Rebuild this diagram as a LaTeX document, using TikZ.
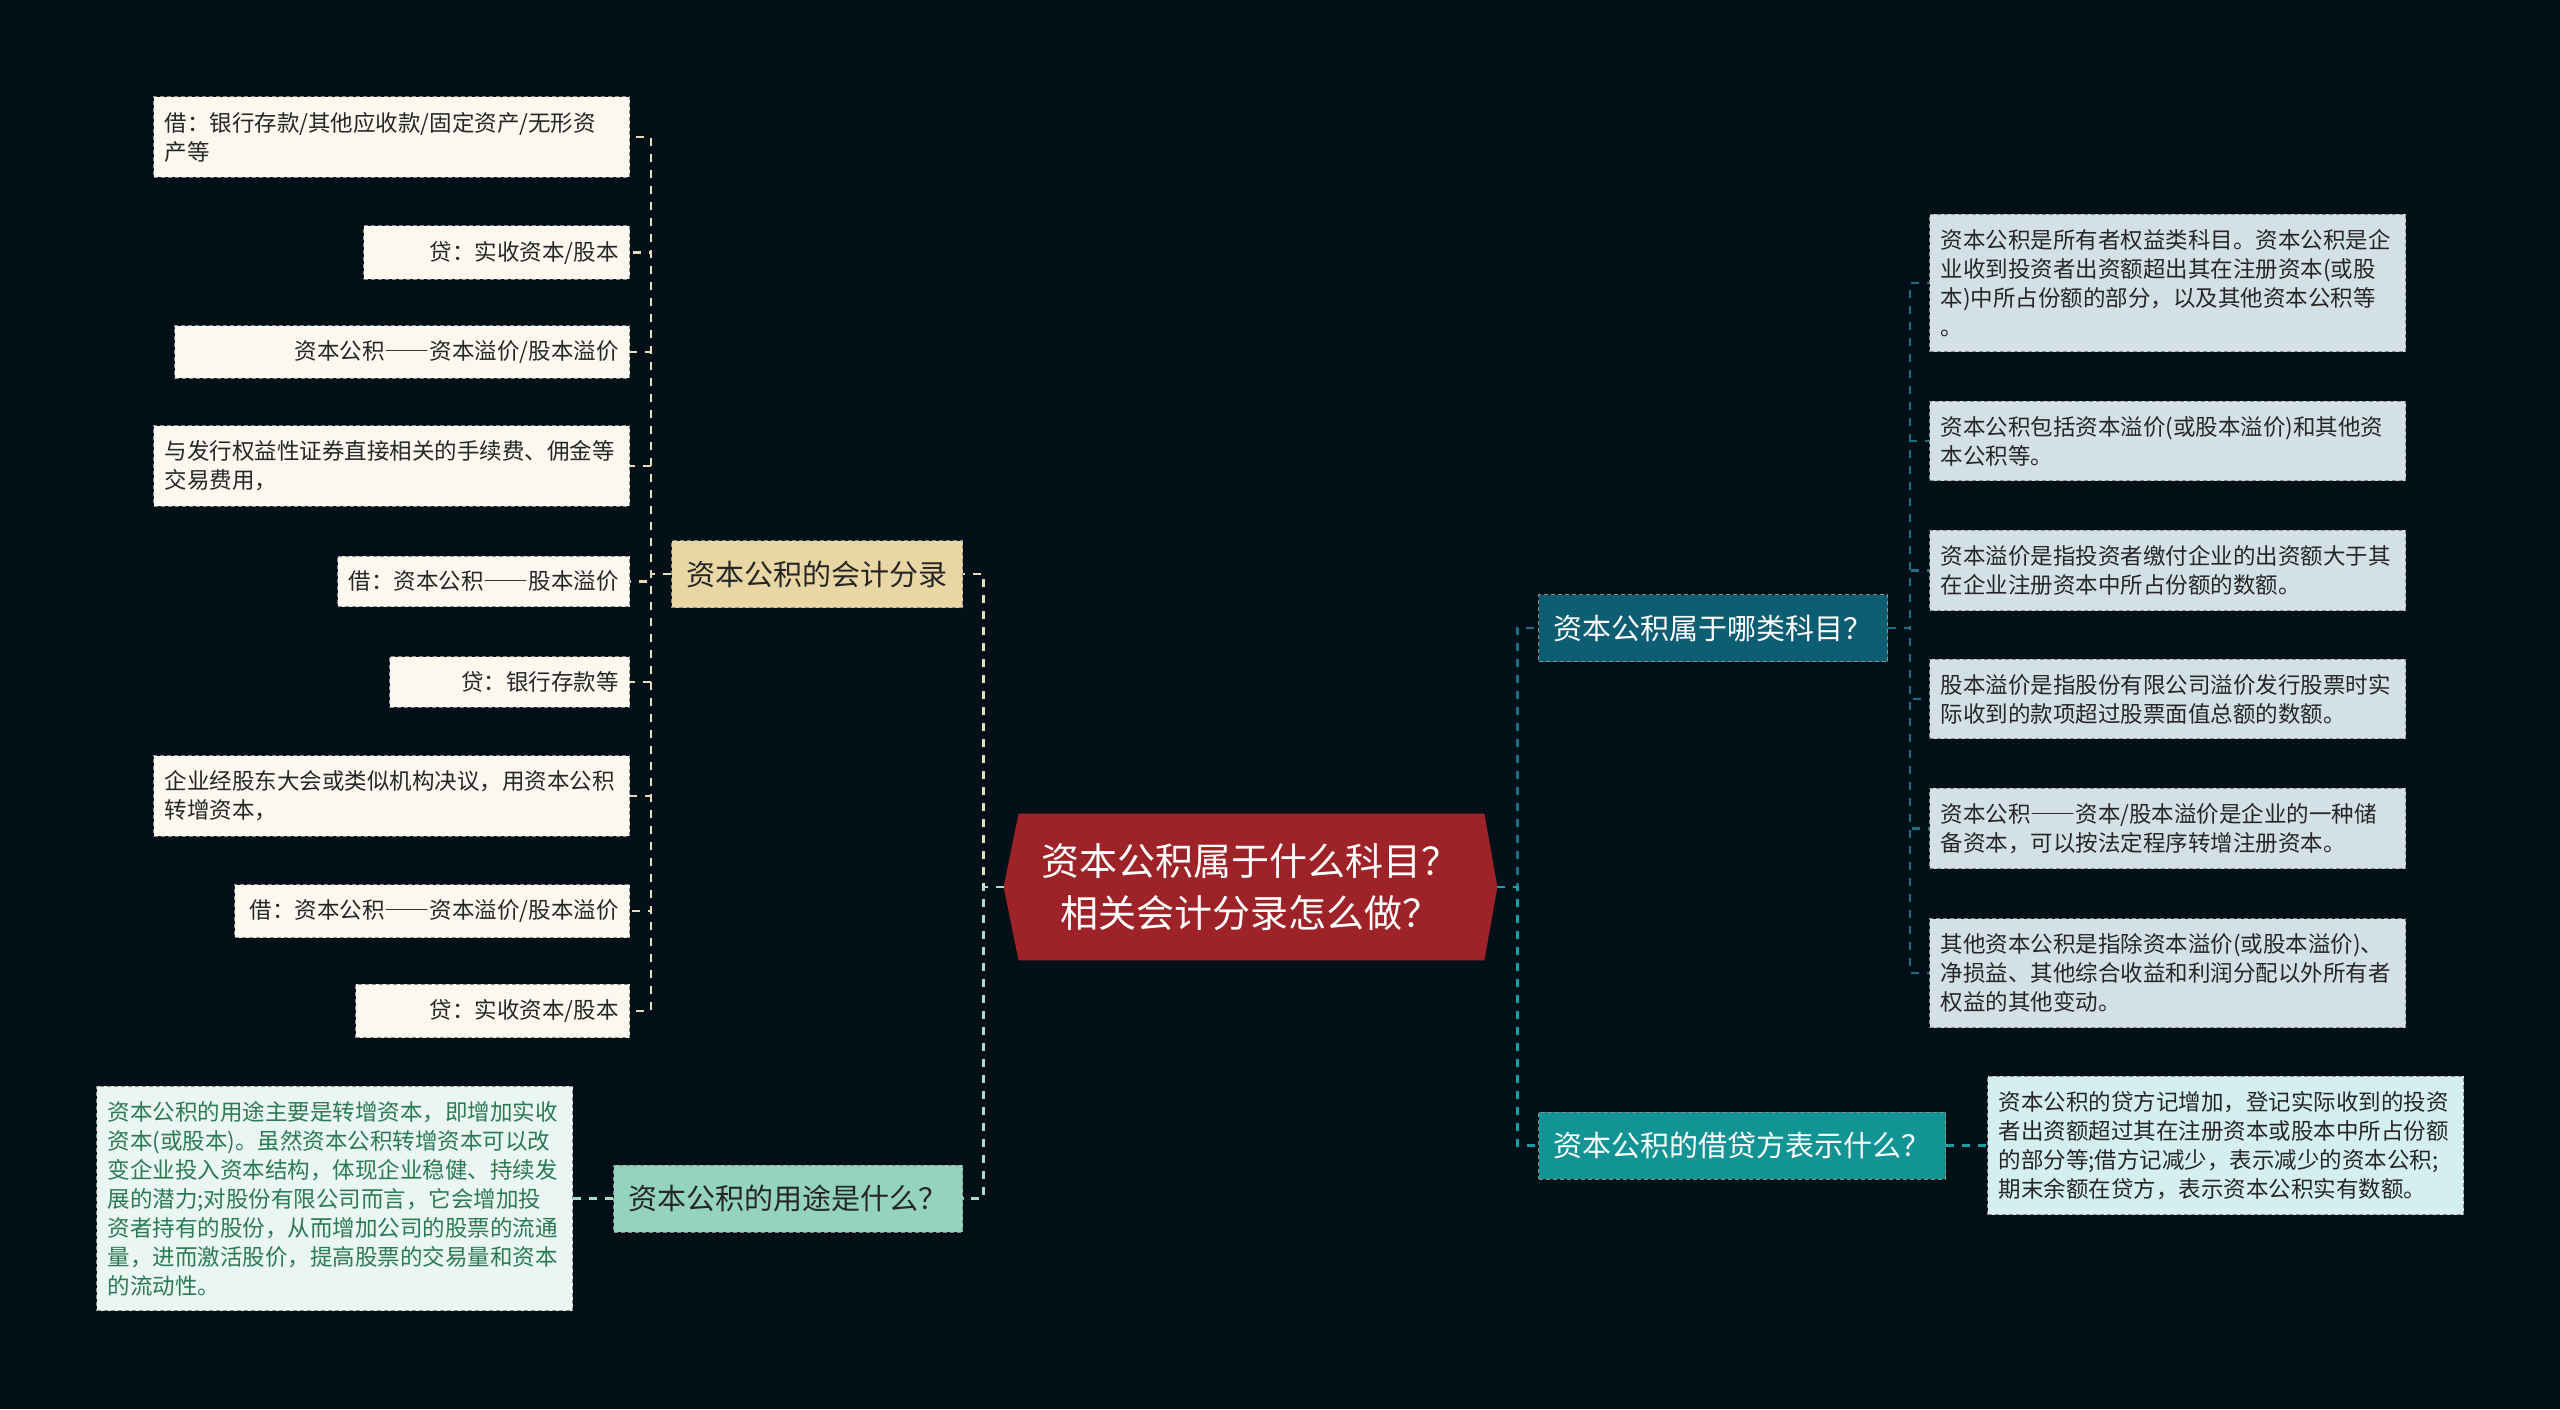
\documentclass[tikz,border=0pt]{standalone}
\usepackage{fontspec}
\setmainfont{Noto Sans CJK SC}
\usepackage{tikz}
\usetikzlibrary{calc, backgrounds}
\definecolor{bgnavy}{RGB}{4, 16, 24}
\definecolor{rootred}{RGB}{158, 35, 41}
\definecolor{leafcream}{RGB}{251, 248, 239}
\definecolor{tanfill}{RGB}{232, 215, 164}
\definecolor{tanline}{RGB}{233, 221, 181}
\definecolor{mintfill}{RGB}{148, 211, 189}
\definecolor{mintleaf}{RGB}{234, 246, 241}
\definecolor{minttext}{RGB}{44, 122, 85}
\definecolor{mintline}{RGB}{168, 221, 203}
\definecolor{bluefill}{RGB}{13, 93, 115}
\definecolor{blueleaf}{RGB}{211, 225, 231}
\definecolor{blueline}{RGB}{28, 111, 133}
\definecolor{tealfill}{RGB}{19, 148, 148}
\definecolor{tealleaf}{RGB}{213, 238, 240}
\definecolor{tealline}{RGB}{30, 158, 165}
\newcommand{\longdash}{{\addfontfeature{RawFeature=+fwid}——}}

\begin{document}
\begin{tikzpicture}[x=0.5pt, y=-0.5pt,
  boxline/.style={draw=black!45, dash pattern=on 2pt off 1.5pt, line width=0.5pt},
  leafbox/.style={boxline, inner xsep=5.5pt, inner ysep=7.5pt, font=\fontsize{11.25}{14.5}\selectfont, text=black!85},
  leafwide/.style={leafbox, text width=227pt, align=left},
  leafL/.style={leafbox, fill=leafcream, anchor=east, align=right},
  leafR/.style={leafwide, fill=blueleaf, anchor=west},
  branchbox/.style={boxline, inner xsep=7.5pt, minimum height=33.5pt, font=\fontsize{14.5}{17}\selectfont},
  rootbox/.style={minimum width=246.5pt, minimum height=73pt, align=center, text=white, font=\fontsize{19}{26}\selectfont},
  conn/.style={line width=1.3pt, dash pattern=on 4pt off 4pt}
]
  \node[rootbox] (root) at (1250.5, 887) {资本公积属于什么科目？\\相关会计分录怎么做？};
  \begin{scope}[on background layer]
    \fill[bgnavy] (0, 0) rectangle (2560, 1409);
    \fill[rootred] (root.west) -- ($(root.north west)+(15, 0)$) -- ($(root.north east)+(-13, 0)$)
      -- (root.east) -- ($(root.south east)+(-13, 0)$) -- ($(root.south west)+(15, 0)$) -- cycle;
  \end{scope}

  % left: accounting entries
  \node[branchbox, fill=tanfill, text=black!85, anchor=east] (acct) at (963, 574) {资本公积的会计分录};
  \node[leafL, text width=227pt, align=left] (dL1) at (630, 137) {借：银行存款/其他应收款/固定资产/无形资\\产等};
  \node[leafL, text width=122pt] (dL2) at (630, 252.5) {贷：实收资本/股本};
  \node[leafL, text width=216.5pt] (dL3) at (630, 352) {资本公积\longdash 资本溢价/股本溢价};
  \node[leafL, text width=227pt, align=left] (dL4) at (630, 466) {与发行权益性证券直接相关的手续费、佣金等\\交易费用，};
  \node[leafL, text width=135pt] (dL5) at (630, 581.5) {借：资本公积\longdash 股本溢价};
  \node[leafL, text width=109pt] (dL6) at (630, 682) {贷：银行存款等};
  \node[leafL, text width=227pt, align=left] (dL7) at (630, 796) {企业经股东大会或类似机构决议，用资本公积\\转增资本，};
  \node[leafL, text width=186.5pt] (dL8) at (630, 911) {借：资本公积\longdash 资本溢价/股本溢价};
  \node[leafL, text width=126pt] (dL9) at (630, 1011) {贷：实收资本/股本};

  % left: use
  \node[branchbox, fill=mintfill, text=black!85, anchor=east] (use) at (963, 1198.5) {资本公积的用途是什么？};
  \node[leafwide, fill=mintleaf, text=minttext, anchor=east] (useL) at (573, 1198.5) {资本公积的用途主要是转增资本，即增加实收\\资本(或股本)。虽然资本公积转增资本可以改\\变企业投入资本结构，体现企业稳健、持续发\\展的潜力;对股份有限公司而言，它会增加投\\资者持有的股份，从而增加公司的股票的流通\\量，进而激活股价，提高股票的交易量和资本\\的流动性。};

  % right: kind of account
  \node[branchbox, fill=bluefill, text=white, anchor=west] (kind) at (1538, 628) {资本公积属于哪类科目？};
  \node[leafR] (kR1) at (1929, 283) {资本公积是所有者权益类科目。资本公积是企\\业收到投资者出资额超出其在注册资本(或股\\本)中所占份额的部分，以及其他资本公积等\\。};
  \node[leafR] (kR2) at (1929, 441) {资本公积包括资本溢价(或股本溢价)和其他资\\本公积等。};
  \node[leafR] (kR3) at (1929, 570.5) {资本溢价是指投资者缴付企业的出资额大于其\\在企业注册资本中所占份额的数额。};
  \node[leafR] (kR4) at (1929, 699) {股本溢价是指股份有限公司溢价发行股票时实\\际收到的款项超过股票面值总额的数额。};
  \node[leafR] (kR5) at (1929, 828.5) {资本公积\longdash 资本/股本溢价是企业的一种储\\备资本，可以按法定程序转增注册资本。};
  \node[leafR] (kR6) at (1929, 973) {其他资本公积是指除资本溢价(或股本溢价)、\\净损益、其他综合收益和利润分配以外所有者\\权益的其他变动。};

  % right: debit and credit
  \node[branchbox, fill=tealfill, text=white, anchor=west] (dc) at (1538, 1145.5) {资本公积的借贷方表示什么？};
  \node[leafwide, fill=tealleaf, anchor=west] (dcR) at (1987, 1145.5) {资本公积的贷方记增加，登记实际收到的投资\\者出资额超过其在注册资本或股本中所占份额\\的部分等;借方记减少，表示减少的资本公积;\\期末余额在贷方，表示资本公积实有数额。};

  \draw[conn, tanline] (root.west) -- ++(-20, 0) |- (acct.east);
  \draw[conn, mintline] (root.west) -- ++(-20, 0) |- (use.east);
  \draw[conn, blueline] (root.east) -- ++(20, 0) |- (kind.west);
  \draw[conn, tealline] (root.east) -- ++(20, 0) |- (dc.west);
  \foreach \n in {dL1, dL2, dL3, dL4, dL5, dL6, dL7, dL8, dL9}
    \draw[conn, tanline] (acct.west) -- ++(-20, 0) |- (\n.east);
  \foreach \n in {kR1, kR2, kR3, kR4, kR5, kR6}
    \draw[conn, blueline] (kind.east) -- ++(22, 0) |- (\n.west);
  \draw[conn, mintline] (use.west) -- (useL.east);
  \draw[conn, tealline] (dc.east) -- (dcR.west);
\end{tikzpicture}
\end{document}
